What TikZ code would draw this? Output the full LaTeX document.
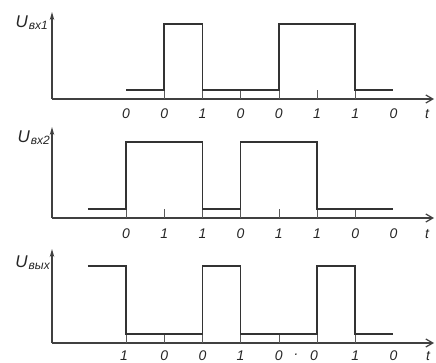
\documentclass[tikz,border=0pt]{standalone}
\usepackage{fontspec}
\setmainfont{Liberation Sans}
\usetikzlibrary{arrows.meta}
\begin{document}
\begin{tikzpicture}[x=1pt,y=-1pt,
  sig/.style={line width=1.7pt, line join=miter, color=black!80},
  axis/.style={line width=1.2pt, color=black!75},
  tickmark/.style={line width=0.6pt, color=black!65},
  lab/.style={font=\fontsize{14}{14}\selectfont\itshape, inner sep=0pt, color=black!85},
  ylab/.style={font=\fontsize{17}{17}\selectfont\itshape, inner sep=0pt, anchor=base east, color=black!85},
  yarrow/.style={-{Stealth[length=8pt,width=4.5pt]}},
  xarrow/.style={-{Straight Barb[length=7pt,width=8pt]}}]
\useasboundingbox (0,0) rectangle (436,363);
\newcommand{\sub}[1]{\kern1pt\raisebox{-2pt}{\fontsize{12}{12}\selectfont #1}}
% ---------- panel 1 ----------
\draw[axis,yarrow] (52,99) -- (52,12);
\draw[axis,xarrow] (52,99) -- (434,99);
\foreach \x in {164.2,202.4,240.6,278.8,317,355.2} \draw[tickmark] (\x,99) -- (\x,90);
\draw[sig] (126,90) -- (164.2,90) -- (164.2,24) -- (202.4,24) -- (202.4,90) -- (278.8,90) -- (278.8,24) -- (355.2,24) -- (355.2,90) -- (393.4,90);
\node[ylab] (ya) at (48,28) {U\sub{вх1}};
\foreach \x/\v [count=\i] in {126/0,164.2/0,202.4/1,240.6/0,278.8/0,317/1,355.2/1,393.4/0}
  \node[lab] (a\i) at (\x,114) {\v};
\node[lab] (ta) at (427,114) {t};
% ---------- panel 2 ----------
\draw[axis,yarrow] (52,218) -- (52,127);
\draw[axis,xarrow] (52,218) -- (434,218);
\foreach \x in {126,164.2,202.4,240.6,278.8,317,355.2} \draw[tickmark] (\x,218) -- (\x,209);
\draw[sig] (87.8,209) -- (126,209) -- (126,142) -- (202.4,142) -- (202.4,209) -- (240.6,209) -- (240.6,142) -- (317,142) -- (317,209) -- (393.4,209);
\node[ylab] (yb) at (50,143) {U\sub{вх2}};
\foreach \x/\v [count=\i] in {126/0,164.2/1,202.4/1,240.6/0,278.8/1,317/1,355.2/0,393.4/0}
  \node[lab] (b\i) at (\x,234) {\v};
\node[lab] (tb) at (427,234) {t};
% ---------- panel 3 ----------
\draw[axis,yarrow] (52,343) -- (52,249);
\draw[axis,xarrow] (52,343) -- (434,343);
\foreach \x in {126,164.2,202.4,240.6,278.8,317,355.2} \draw[tickmark] (\x,343) -- (\x,334);
\draw[sig] (87.8,266) -- (126,266) -- (126,334) -- (202.4,334) -- (202.4,266) -- (240.6,266) -- (240.6,334) -- (317,334) -- (317,266) -- (355.2,266) -- (355.2,334) -- (393.4,334);
\node[ylab] (yc) at (50,267) {U\sub{вых}};
\foreach \x/\v [count=\i] in {124/1,164.2/0,202.4/0,240.6/1,278.8/0,314/0,355.2/1,393.4/0}
  \node[lab] (c\i) at (\x,356) {\v};
\node[lab] (dot) at (296,356) {·};
\node[lab] (tc) at (428,356) {t};
\end{tikzpicture}
\end{document}
